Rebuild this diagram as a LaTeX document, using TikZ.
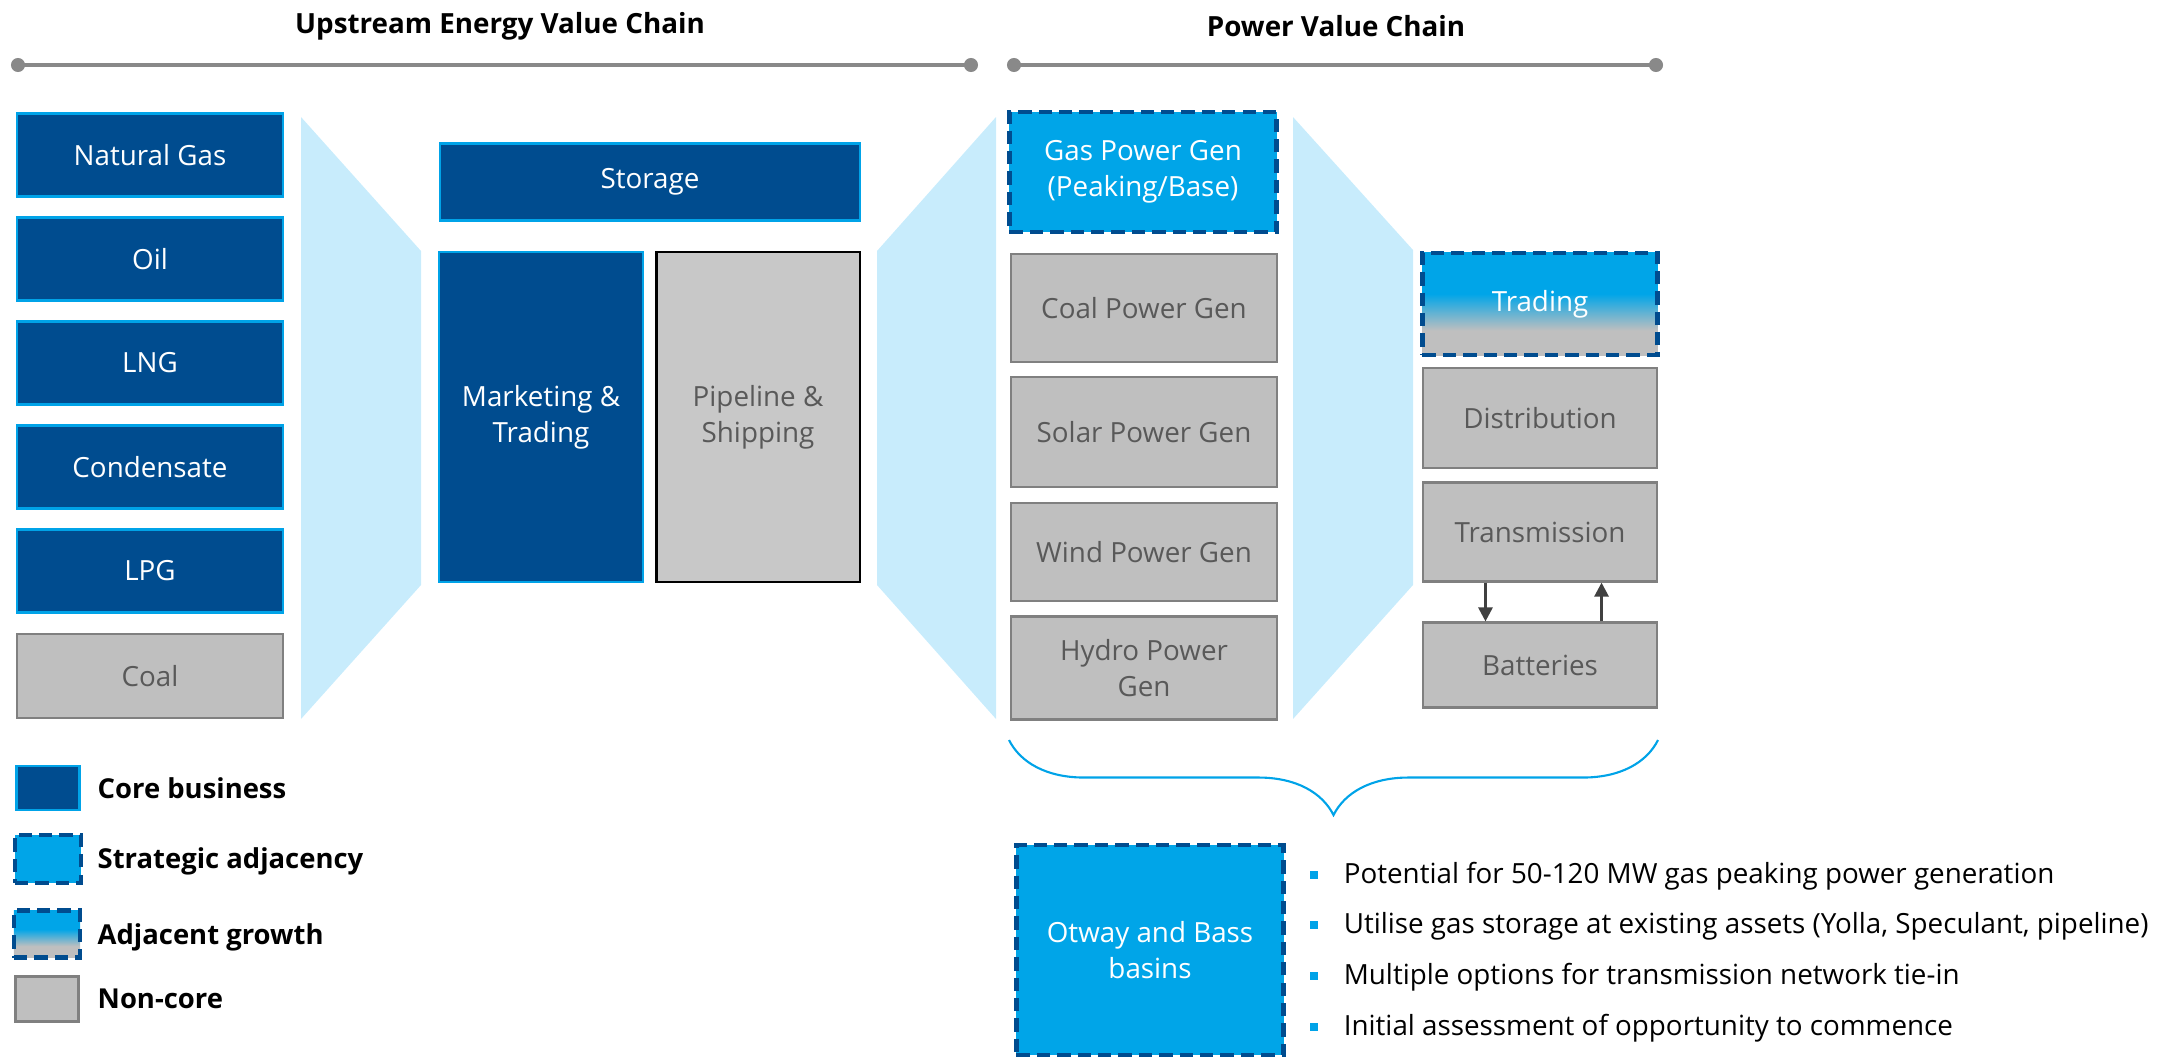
\documentclass[tikz,border=0pt]{standalone}
\usepackage{fontspec}
\setmainfont{Open Sans}
\usetikzlibrary{arrows.meta,decorations.pathreplacing}
\definecolor{coreblue}{RGB}{0,76,143}
\definecolor{edgeblue}{RGB}{0,163,232}
\definecolor{stratblue}{RGB}{0,165,232}
\definecolor{noncore}{RGB}{191,191,191}
\definecolor{pipegrey}{RGB}{200,200,200}
\definecolor{noncoreedge}{RGB}{128,128,128}
\definecolor{noncoretext}{RGB}{89,89,89}
\definecolor{funnel}{RGB}{200,236,252}
\definecolor{chaingrey}{RGB}{137,137,137}
\definecolor{arrowgrey}{RGB}{64,64,64}
\pgfdeclareverticalshading{adjgrowth}{100bp}{color(0bp)=(noncore); color(37bp)=(noncore);
  color(55bp)=(stratblue); color(100bp)=(stratblue)}
\begin{document}
\begin{tikzpicture}[x=0.01cm,y=-0.01cm,
    box/.style={rectangle,inner sep=2pt,align=center,font=\fontsize{7.9}{10.2}\selectfont},
    corebox/.style={box,fill=coreblue,draw=edgeblue,line width=0.6pt,text=white},
    stratbox/.style={box,fill=stratblue,draw=coreblue,line width=1.3pt,
      dash pattern=on 3.8pt off 2pt,text=white},
    adjbox/.style={stratbox,shading=adjgrowth},
    greybox/.style={box,fill=noncore,draw=noncoreedge,line width=0.6pt,text=noncoretext},
    titletext/.style={font=\fontsize{7.9}{9}\selectfont\bfseries},
    legendtext/.style={anchor=west,inner sep=0pt,font=\fontsize{7.8}{9}\selectfont\bfseries},
    bullettext/.style={anchor=west,inner sep=0pt,font=\fontsize{7.9}{9}\selectfont},
    chainline/.style={chaingrey,line width=1.1pt},
    flowarrow/.style={arrowgrey,line width=0.8pt,-{Triangle[length=4pt,width=4pt]}}]
  \useasboundingbox (0,0) rectangle (2176,1060);

  % value chain headings
  \node[titletext] (uptitle) at (500,26) {Upstream Energy Value Chain};
  \node[titletext] (pwtitle) at (1336,26) {Power Value Chain};
  \coordinate (ul) at (18,65);
  \coordinate (ur) at (971,65);
  \coordinate (pl) at (1014,65);
  \coordinate (pr) at (1656,65);
  \draw[chainline] (ul) -- (ur) (pl) -- (pr);
  \fill[chaingrey] (ul) circle(2pt) (ur) circle(2pt) (pl) circle(2pt) (pr) circle(2pt);

  % funnels
  \fill[funnel] (301,117) -- (421,251) -- (421,585) -- (301,719) -- cycle;
  \fill[funnel] (996,117) -- (877,251) -- (877,585) -- (996,719) -- cycle;
  \fill[funnel] (1293,117) -- (1413,250) -- (1413,585) -- (1293,719) -- cycle;

  % upstream products
  \node[corebox,minimum width=2.65cm,minimum height=0.83cm] (natgas) at (150,155) {Natural Gas};
  \node[corebox,minimum width=2.65cm,minimum height=0.83cm] (oil) at (150,259) {Oil};
  \node[corebox,minimum width=2.65cm,minimum height=0.83cm] (lng) at (150,363) {LNG};
  \node[corebox,minimum width=2.65cm,minimum height=0.83cm] (cond) at (150,467) {Condensate};
  \node[corebox,minimum width=2.65cm,minimum height=0.83cm] (lpg) at (150,571) {LPG};
  \node[greybox,minimum width=2.65cm,minimum height=0.84cm] (coal) at (150,676) {Coal};

  % midstream
  \node[corebox,minimum width=4.19cm,minimum height=0.77cm] (storage) at (650,182) {Storage};
  \node[corebox,minimum width=2.04cm,minimum height=3.3cm] (market) at (541,417) {Marketing \&\\Trading};
  \node[greybox,draw=black,fill=pipegrey,minimum width=2.03cm,minimum height=3.3cm] (pipe) at (758,417)
    {Pipeline \&\\Shipping};

  % generation
  \node[stratbox,minimum width=2.67cm,minimum height=1.2cm] (gasgen) at (1143,172)
    {Gas Power Gen\\(Peaking/Base)};
  \node[greybox,minimum width=2.65cm,minimum height=1.08cm] (coalgen) at (1144,308) {Coal Power Gen};
  \node[greybox,minimum width=2.65cm,minimum height=1.1cm] (solargen) at (1144,432) {Solar Power Gen};
  \node[greybox,minimum width=2.65cm,minimum height=0.98cm] (windgen) at (1144,552) {Wind Power Gen};
  \node[greybox,minimum width=2.65cm,minimum height=1.03cm] (hydrogen) at (1144,668) {Hydro Power\\Gen};

  % downstream
  \node[adjbox,minimum width=2.35cm,minimum height=1.02cm] (trading) at (1540,304) {Trading};
  \node[greybox,minimum width=2.34cm,minimum height=1.0cm] (distrib) at (1540,418) {Distribution};
  \node[greybox,minimum width=2.34cm,minimum height=0.99cm] (trans) at (1540,532) {Transmission};
  \node[greybox,minimum width=2.34cm,minimum height=0.85cm] (batt) at (1540,665) {Batteries};
  \draw[flowarrow] ([xshift=-0.545cm]trans.south) -- ([xshift=-0.545cm]batt.north);
  \draw[flowarrow] ([xshift=0.615cm]batt.north) -- ([xshift=0.615cm]trans.south);

  % brace and opportunity
  \coordinate (bracer) at (1658,740);
  \coordinate (bracel) at (1009,740);
  \draw[edgeblue,line width=0.6pt,decorate,decoration={brace,amplitude=0.75cm}] (bracer) -- (bracel);
  \node[stratbox,minimum width=2.67cm,minimum height=2.1cm] (otway) at (1150,950) {Otway and Bass\\basins};
  \node[bullettext] (b1) at (1309,876) {\textcolor{edgeblue}{\rule[0.3ex]{2.3pt}{2.3pt}}\hspace{7.4pt}Potential for 50-120 MW gas peaking power generation};
  \node[bullettext] (b2) at (1309,926) {\textcolor{edgeblue}{\rule[0.3ex]{2.3pt}{2.3pt}}\hspace{7.4pt}Utilise gas storage at existing assets (Yolla, Speculant, pipeline)};
  \node[bullettext] (b3) at (1309,977) {\textcolor{edgeblue}{\rule[0.3ex]{2.3pt}{2.3pt}}\hspace{7.4pt}Multiple options for transmission network tie-in};
  \node[bullettext] (b4) at (1309,1028) {\textcolor{edgeblue}{\rule[0.3ex]{2.3pt}{2.3pt}}\hspace{7.4pt}Initial assessment of opportunity to commence};

  % legend
  \node[corebox,minimum width=0.63cm,minimum height=0.44cm] (lcore) at (48,788) {};
  \node[stratbox,minimum width=0.66cm,minimum height=0.48cm] (lstrat) at (48,859) {};
  \node[adjbox,minimum width=0.66cm,minimum height=0.47cm] (ladj) at (47,934) {};
  \node[greybox,minimum width=0.63cm,minimum height=0.45cm] (lnon) at (47,999) {};
  \node[legendtext] (tcore) at (97,788) {Core business};
  \node[legendtext] (tstrat) at (97,861) {Strategic adjacency};
  \node[legendtext] (tadj) at (97,937) {Adjacent growth};
  \node[legendtext] (tnon) at (97,999) {Non-core};
\end{tikzpicture}
\end{document}
